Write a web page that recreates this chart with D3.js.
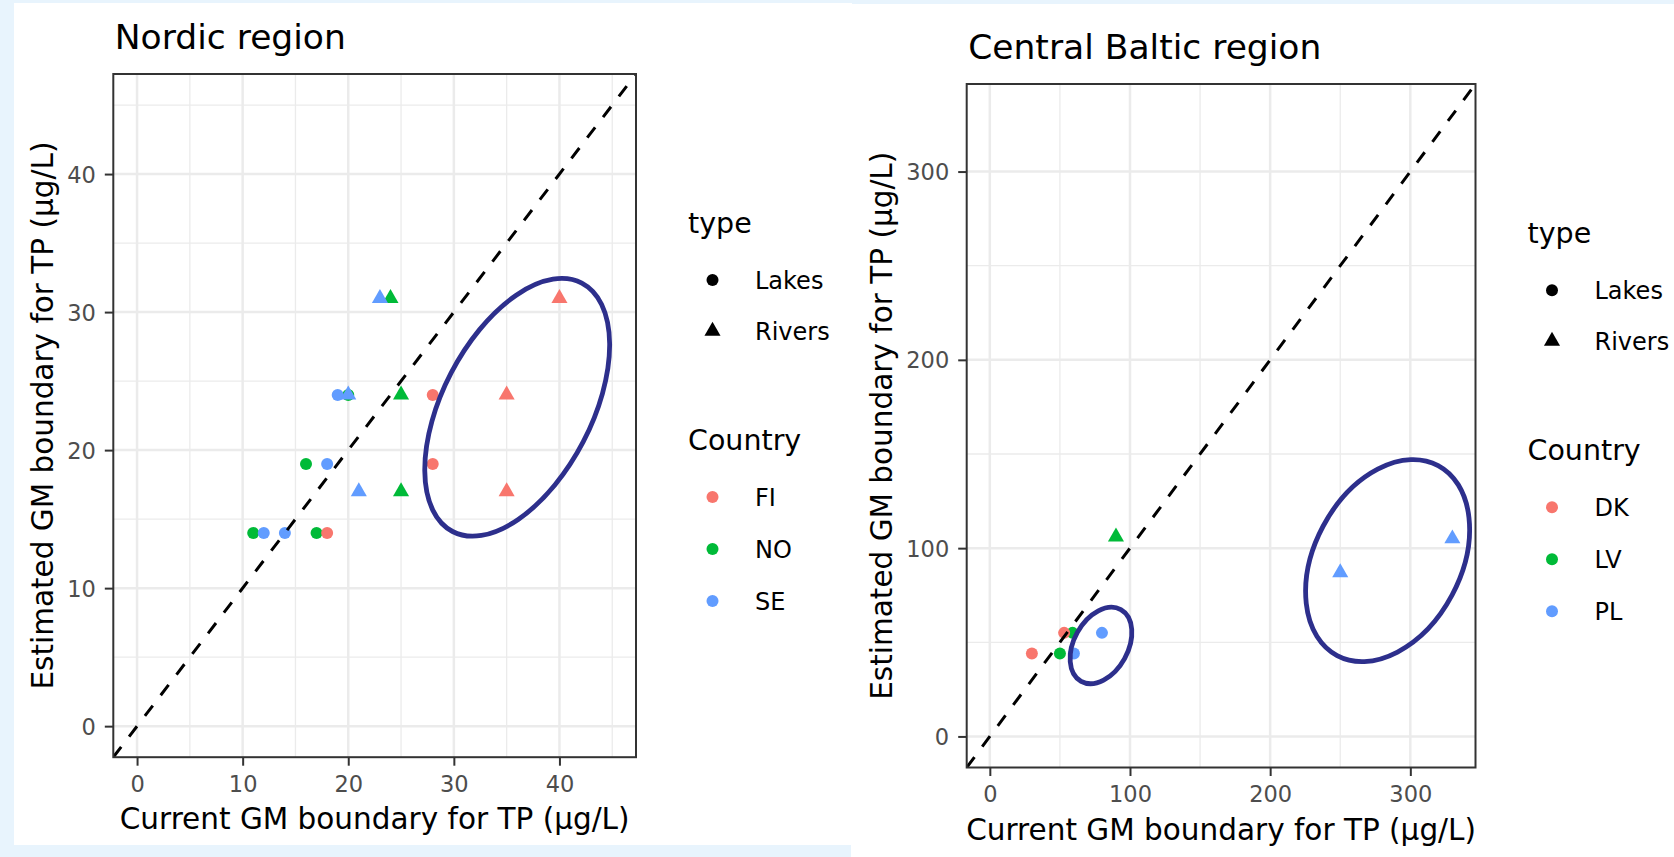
<!DOCTYPE html>
<html>
<head>
<meta charset="utf-8">
<script src="https://cdn.jsdelivr.net/npm/d3@7"></script>
<style>
  html, body { margin: 0; padding: 0; background: #e8f4fd; }
  svg { display: block; }
  text { font-family: "DejaVu Sans", sans-serif; }
</style>
</head>
<body>
<svg id="chart" width="1674" height="857"></svg>
<script>
// ---------- Nordic region ----------
const nordicCountry   = ["NO","NO","NO","NO","NO","NO","NO",
                         "SE","SE","SE","SE","SE","SE","SE",
                         "FI","FI","FI","FI","FI","FI"];
const nordicType      = ["Lakes","Lakes","Lakes","Lakes","Rivers","Rivers","Rivers",
                         "Lakes","Lakes","Lakes","Lakes","Rivers","Rivers","Rivers",
                         "Lakes","Lakes","Lakes","Rivers","Rivers","Rivers"];
const nordicCurrent   = [11, 17, 16, 20, 25, 25, 24,
                         12, 14, 18, 19, 21, 20, 23,
                         18, 28, 28, 35, 35, 40];
const nordicEstimated = [14, 14, 19, 24, 17, 24, 31,
                         14, 14, 19, 24, 17, 24, 31,
                         14, 19, 24, 17, 24, 31];
const nordicCountries = ["FI", "NO", "SE"];
const nordicLimits    = [0, 45];
const nordicTicks     = [0, 10, 20, 30, 40];
const nordicMinor     = [5, 15, 25, 35, 45];
// highlighted group: centre in data units, radii in px, tilt in degrees
const nordicRings     = [{ cx: 36.0, cy: 23.1, rx: 140, ry: 74.5, angle: -62.5 }];

// ---------- Central Baltic region ----------
const balticCountry   = ["LV","LV","LV","DK","DK","PL","PL","PL","PL"];
const balticType      = ["Lakes","Lakes","Rivers","Lakes","Lakes","Lakes","Lakes","Rivers","Rivers"];
const balticCurrent   = [50, 59, 90, 30, 53, 60, 80, 250, 330];
const balticEstimated = [44, 55, 106, 44, 55, 44, 55, 87, 105];
const balticCountries = ["DK", "LV", "PL"];
const balticLimits    = [0, 330];
const balticTicks     = [0, 100, 200, 300];
const balticMinor     = [50, 150, 250];
const balticRings     = [{ cx: 79.3, cy: 48.3, rx: 41, ry: 27, angle: -61 },
                         { cx: 283.8, cy: 93.4, rx: 107.6, ry: 73.1, angle: -62 }];

const palette   = ["#F8766D", "#00BA38", "#619CFF"];
const typeNames = ["Lakes", "Rivers"];

const xTitle = "Current GM boundary for TP (\u00B5g/L)";
const yTitle = "Estimated GM boundary for TP (\u00B5g/L)";

const panels = [
  { title: "Nordic region", country: nordicCountry, type: nordicType,
    current: nordicCurrent, estimated: nordicEstimated, countries: nordicCountries,
    limits: nordicLimits, ticks: nordicTicks, minor: nordicMinor, rings: nordicRings,
    box: { left: 113.3, right: 636, top: 74, bottom: 757.2 }, yTitleX: 53 },
  { title: "Central Baltic region", country: balticCountry, type: balticType,
    current: balticCurrent, estimated: balticEstimated, countries: balticCountries,
    limits: balticLimits, ticks: balticTicks, minor: balticMinor, rings: balticRings,
    box: { left: 966.7, right: 1475.5, top: 84, bottom: 767.5 }, yTitleX: 891.5 }
];

const svg = d3.select("#chart");

// page backdrop and the two white cards
svg.append("rect").attr("width", 1674).attr("height", 857).attr("fill", "#e8f4fd");
svg.append("rect").attr("x", 14).attr("y", 3).attr("width", 838).attr("height", 842).attr("fill", "#ffffff");
svg.append("rect").attr("x", 851).attr("y", 4).attr("width", 823).attr("height", 853).attr("fill", "#ffffff");

const dotR = 6;
const triangleArea = 112;

panels.forEach((p, i) => {
  const span = p.limits[1] - p.limits[0];
  const dom = [p.limits[0] - 0.05 * span, p.limits[1] + 0.05 * span];
  const x = d3.scaleLinear().domain(dom).range([p.box.left, p.box.right]);
  const y = d3.scaleLinear().domain(dom).range([p.box.bottom, p.box.top]);
  const color = d3.scaleOrdinal().domain(p.countries).range(palette);
  const g = svg.append("g");

  const clipId = "clip" + i;
  g.append("clipPath").attr("id", clipId).append("rect")
    .attr("x", p.box.left).attr("y", p.box.top)
    .attr("width", p.box.right - p.box.left).attr("height", p.box.bottom - p.box.top);

  const plot = g.append("g").attr("clip-path", `url(#${clipId})`);

  // minor grid
  plot.selectAll(".mx").data(p.minor).join("line")
    .attr("x1", d => x(d)).attr("x2", d => x(d))
    .attr("y1", p.box.top).attr("y2", p.box.bottom)
    .attr("stroke", "#ebebeb").attr("stroke-width", 1.3);
  plot.selectAll(".my").data(p.minor).join("line")
    .attr("y1", d => y(d)).attr("y2", d => y(d))
    .attr("x1", p.box.left).attr("x2", p.box.right)
    .attr("stroke", "#ebebeb").attr("stroke-width", 1.3);
  // major grid
  plot.selectAll(".gx").data(p.ticks).join("line")
    .attr("x1", d => x(d)).attr("x2", d => x(d))
    .attr("y1", p.box.top).attr("y2", p.box.bottom)
    .attr("stroke", "#ebebeb").attr("stroke-width", 2.5);
  plot.selectAll(".gy").data(p.ticks).join("line")
    .attr("y1", d => y(d)).attr("y2", d => y(d))
    .attr("x1", p.box.left).attr("x2", p.box.right)
    .attr("stroke", "#ebebeb").attr("stroke-width", 2.5);

  // points
  const rows = p.current.map((c, k) => ({
    x: c, y: p.estimated[k], country: p.country[k], type: p.type[k]
  }));
  plot.selectAll(".pt").data(rows).join("path")
    .attr("transform", d => `translate(${x(d.x)},${y(d.y)})`)
    .attr("d", d => d.type === "Lakes"
      ? d3.symbol().type(d3.symbolCircle).size(Math.PI * dotR * dotR)()
      : d3.symbol().type(d3.symbolTriangle).size(triangleArea)())
    .attr("fill", d => color(d.country));

  // 1:1 reference line
  plot.append("line")
    .attr("x1", x(dom[0])).attr("y1", y(dom[0]))
    .attr("x2", x(dom[1])).attr("y2", y(dom[1]))
    .attr("stroke", "#000").attr("stroke-width", 3)
    .attr("stroke-dasharray", "13,13");

  // panel border
  g.append("rect")
    .attr("x", p.box.left).attr("y", p.box.top)
    .attr("width", p.box.right - p.box.left).attr("height", p.box.bottom - p.box.top)
    .attr("fill", "none").attr("stroke", "#333333").attr("stroke-width", 2);

  // axes
  const ax = g.append("g").attr("transform", `translate(0,${p.box.bottom})`)
    .call(d3.axisBottom(x).tickValues(p.ticks).tickSize(8.5).tickPadding(10).tickFormat(d3.format("d")));
  const ay = g.append("g").attr("transform", `translate(${p.box.left},0)`)
    .call(d3.axisLeft(y).tickValues(p.ticks).tickSize(8.5).tickPadding(9).tickFormat(d3.format("d")));
  [ax, ay].forEach(a => {
    a.attr("font-family", null).attr("font-size", null);
    a.select(".domain").remove();
    a.selectAll(".tick line").attr("stroke", "#333333").attr("stroke-width", 2);
    a.selectAll(".tick text").attr("fill", "#4d4d4d").style("font-size", "22.5px");
  });
  ay.selectAll(".tick text").attr("dy", "0.36em");

  // highlight rings
  g.selectAll(".ring").data(p.rings).join("ellipse")
    .attr("transform", d => `translate(${x(d.cx)},${y(d.cy)}) rotate(${d.angle})`)
    .attr("rx", d => d.rx).attr("ry", d => d.ry)
    .attr("fill", "none").attr("stroke", "#2d2f8c").attr("stroke-width", 4.8);

  // titles
  g.append("text").attr("x", p.box.left + 1.5).attr("y", p.box.top - 25.5)
    .style("font-size", "34.5px").attr("fill", "#000").text(p.title);
  g.append("text").attr("x", (p.box.left + p.box.right) / 2).attr("y", p.box.bottom + 72)
    .attr("text-anchor", "middle").style("font-size", "29.5px").attr("fill", "#000").text(xTitle);
  const cy = (p.box.top + p.box.bottom) / 2;
  g.append("text")
    .attr("transform", `translate(${p.yTitleX},${cy}) rotate(-90)`)
    .attr("text-anchor", "middle").style("font-size", "29.5px").attr("fill", "#000").text(yTitle);

  // legends
  const lx = p.box.right;
  const leg = g.append("g");
  leg.append("text").attr("x", lx + 52).attr("y", cy - 182.6)
    .style("font-size", "28.5px").attr("fill", "#000").text("type");
  const typeY = [cy - 135.6, cy - 84.6];
  typeNames.forEach((t, k) => {
    leg.append("path")
      .attr("transform", `translate(${lx + 76.5},${typeY[k]})`)
      .attr("d", t === "Lakes"
        ? d3.symbol().type(d3.symbolCircle).size(Math.PI * dotR * dotR)()
        : d3.symbol().type(d3.symbolTriangle).size(triangleArea)())
      .attr("fill", "#000");
    leg.append("text").attr("x", lx + 119).attr("y", typeY[k]).attr("dy", "0.36em")
      .style("font-size", "24px").attr("fill", "#000").text(t);
  });
  leg.append("text").attr("x", lx + 52).attr("y", cy + 34.4)
    .style("font-size", "28.5px").attr("fill", "#000").text("Country");
  p.countries.forEach((c, k) => {
    const ky = cy + 81.4 + 52 * k;
    leg.append("circle").attr("cx", lx + 76.5).attr("cy", ky).attr("r", dotR)
      .attr("fill", color(c));
    leg.append("text").attr("x", lx + 119).attr("y", ky).attr("dy", "0.36em")
      .style("font-size", "24px").attr("fill", "#000").text(c);
  });
});
</script>
</body>
</html>
